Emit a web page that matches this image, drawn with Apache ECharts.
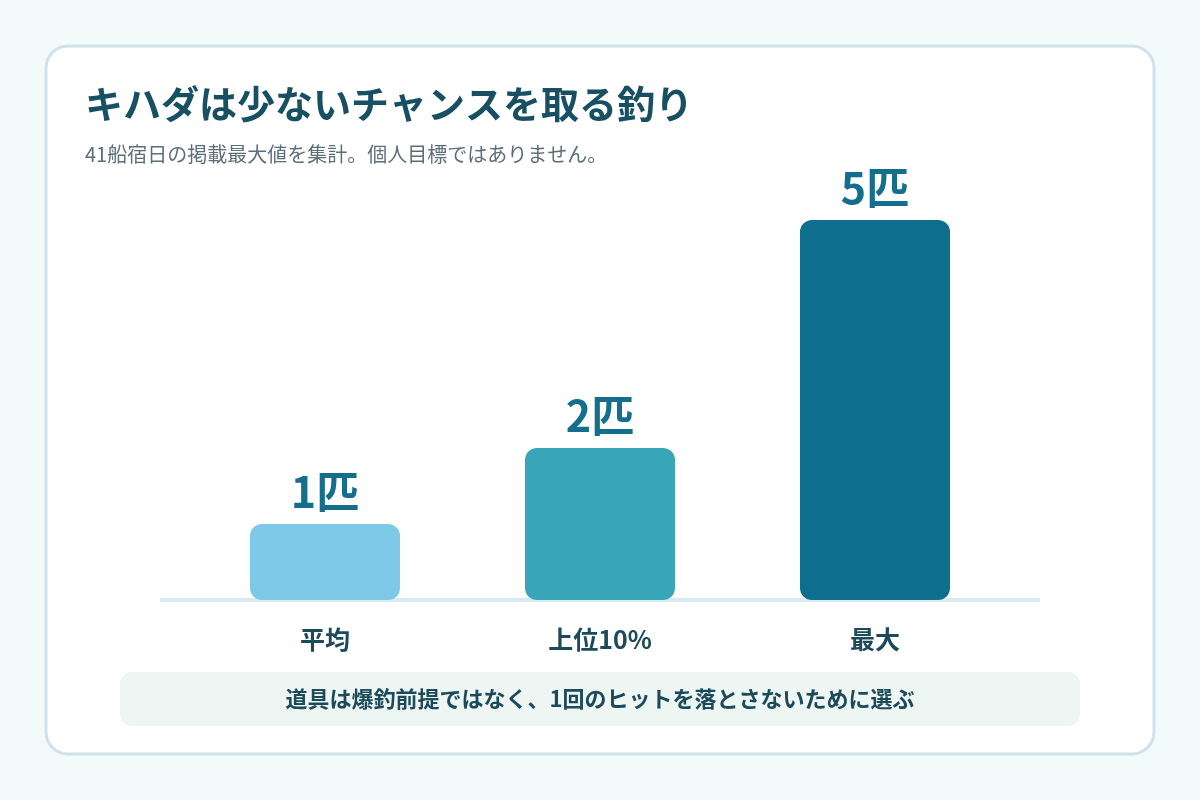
<!DOCTYPE html>
<html>
<head>
<meta charset="utf-8">
<script src="https://cdn.jsdelivr.net/npm/echarts@6/dist/echarts.min.js"></script>
<style>
html,body{margin:0;padding:0;background:#f3fafa;}
#chart{width:1200px;height:800px;}
</style>
</head>
<body>
<div id="chart"></div>
<script>
const titleText = 'キハダは少ないチャンスを取る釣り';
const subtitleText = '41船宿日の掲載最大値を集計。個人目標ではありません。';
const categories = ['平均', '上位10%', '最大'];
const values = [1, 2, 5];
const valueUnit = '匹';
const barColors = ['#7ec8e8', '#38a6b8', '#0e6e8e'];
const noteText = '道具は爆釣前提ではなく、1回のヒットを落とさないために選ぶ';

const FONT = '"Noto Sans CJK JP", "Noto Sans", sans-serif';
const chart = echarts.init(document.getElementById('chart'));
chart.setOption({
  backgroundColor: '#f3fafa',
  textStyle: { fontFamily: FONT },
  title: {
    text: titleText,
    subtext: subtitleText,
    left: 85,
    top: 82,
    padding: 0,
    itemGap: 16,
    textStyle: { fontFamily: FONT, fontSize: 38, fontWeight: 'bold', color: '#174f63', lineHeight: 44 },
    subtextStyle: { fontFamily: FONT, fontSize: 20, color: '#5b6f78', lineHeight: 24 }
  },
  graphic: [
    { type: 'rect', z: -10, shape: { x: 46, y: 46, width: 1108, height: 708, r: 22 },
      style: { fill: '#ffffff', stroke: '#cde2e9', lineWidth: 3 } },
    { type: 'rect', z: -5, shape: { x: 160, y: 598, width: 880, height: 4 },
      style: { fill: '#d8e9ef' } },
    { type: 'rect', z: -5, shape: { x: 120, y: 672, width: 960, height: 54, r: 12 },
      style: { fill: '#edf6f2' } },
    { type: 'text', z: 5, x: 600, y: 699,
      style: { text: noteText, fill: '#1d4a5a', font: 'bold 22px ' + FONT, align: 'center', verticalAlign: 'middle' } }
  ],
  grid: { left: 187.5, right: 187.5, top: 220, bottom: 200, containLabel: false },
  xAxis: {
    type: 'category',
    data: categories,
    axisLine: { show: false },
    axisTick: { show: false },
    axisLabel: { margin: 27, fontSize: 25, fontWeight: 'bold', color: '#1d4a5a', fontFamily: FONT }
  },
  yAxis: { type: 'value', min: 0, max: 5, show: false, splitLine: { show: false } },
  series: [{
    type: 'bar',
    barWidth: 150,
    data: values.map((v, i) => ({ value: v, itemStyle: { color: barColors[i] } })),
    itemStyle: { borderRadius: 12 },
    label: {
      show: true,
      position: 'top',
      distance: 11,
      formatter: p => p.value + valueUnit,
      fontSize: 43,
      fontWeight: 'bold',
      color: '#136f8c',
      fontFamily: FONT
    },
    emphasis: { disabled: true }
  }],
  animation: false
});
</script>
</body>
</html>
